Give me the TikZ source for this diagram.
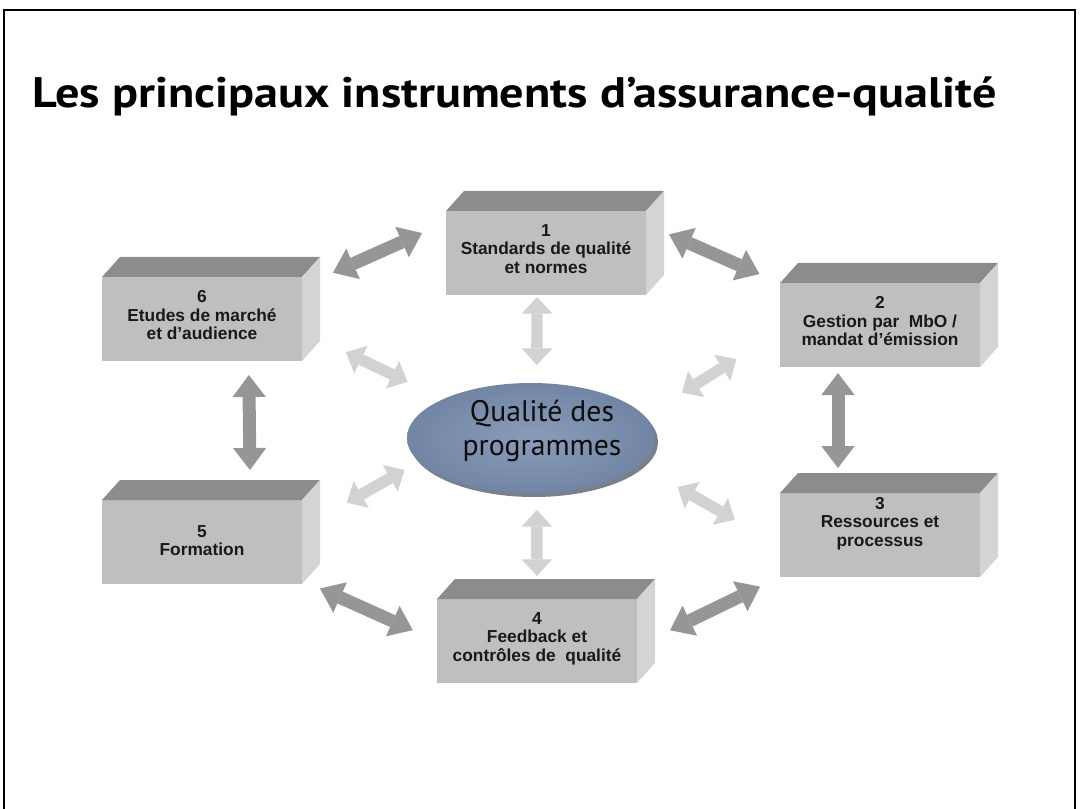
\documentclass[tikz,border=0pt]{standalone}
\usepackage{fontspec}
\usepackage{xcolor}
\usetikzlibrary{arrows.meta,shapes.geometric}

\newfontfamily\boxfont{Liberation Sans}
\newfontfamily\headfont{PT Sans}
\newfontfamily\titlefont[FakeStretch=1.13]{PT Sans Bold}

\definecolor{facefront}{RGB}{191,191,191}
\definecolor{facetop}{RGB}{140,140,140}
\definecolor{faceside}{RGB}{212,212,212}
\definecolor{arrdark}{RGB}{150,150,150}
\definecolor{arrlight}{RGB}{210,210,210}
\definecolor{ellinner}{RGB}{138,156,186}
\definecolor{ellouter}{RGB}{114,133,164}
\definecolor{ellrim}{RGB}{120,128,142}

\tikzset{
  cube/.style={rectangle, fill=facefront, minimum width=150pt, minimum height=63pt,
    inner sep=0pt, outer sep=0pt, align=center, text=black!90, text depth=6pt,
    font=\boxfont\bfseries\fontsize{13}{13.8}\selectfont},
  qtext/.style={inner sep=0pt, align=center, text=black!95,
    font=\headfont\fontsize{22.3}{25}\selectfont},
  darr/.style={draw=arrdark, line width=9.75pt,
    {Triangle[length=16.5pt,width=25pt,line width=0pt]}-{Triangle[length=16.5pt,width=25pt,line width=0pt]}},
  larr/.style={draw=arrlight, line width=8.5pt,
    {Triangle[length=12.5pt,width=23pt,line width=0pt]}-{Triangle[length=12.5pt,width=23pt,line width=0pt]}},
}

\begin{document}
\begin{tikzpicture}[x=0.75pt,y=0.75pt,yscale=-1,xscale=1]
\useasboundingbox (0,0) rectangle (1081,809);

%Frame
\draw[line width=1.5pt] (4,809) -- (4,10) -- (1075,10) -- (1075,809);

% Title
\node[anchor=base west, inner sep=0pt, font=\titlefont\fontsize{32}{38}\selectfont] (title) at (32,108) {Les principaux instruments d’assurance-qualité};

% Boxes (front faces)
\node[cube] (b1) at (546,253) {1\\Standards de qualité\\et normes};
\node[cube] (b2) at (880,325) {2\\Gestion par\ \ MbO /\\mandat d’émission};
\node[cube, text depth=20pt] (b3) at (880,535) {3\\Ressources et\\processus};
\node[cube] (b4) at (537,641) {4\\Feedback et\\contrôles de\ \ qualité};
\node[cube, text depth=2pt] (b5) at (202,542) {5\\Formation};
\node[cube] (b6) at (202,319) {6\\Etudes de marché\\et d’audience};

%Shape: Box 1 top and side
\fill[facetop] (b1.north west) -- ++(18,-20) -- ([shift={(18,-20)}]b1.north east) -- (b1.north east) -- cycle;
\fill[faceside] (b1.north east) -- ++(18,-20) -- ([shift={(18,-20)}]b1.south east) -- (b1.south east) -- cycle;
%Shape: Box 2 top and side
\fill[facetop] (b2.north west) -- ++(18,-20) -- ([shift={(18,-20)}]b2.north east) -- (b2.north east) -- cycle;
\fill[faceside] (b2.north east) -- ++(18,-20) -- ([shift={(18,-20)}]b2.south east) -- (b2.south east) -- cycle;
%Shape: Box 3 top and side
\fill[facetop] (b3.north west) -- ++(18,-20) -- ([shift={(18,-20)}]b3.north east) -- (b3.north east) -- cycle;
\fill[faceside] (b3.north east) -- ++(18,-20) -- ([shift={(18,-20)}]b3.south east) -- (b3.south east) -- cycle;
%Shape: Box 4 top and side
\fill[facetop] (b4.north west) -- ++(18,-20) -- ([shift={(18,-20)}]b4.north east) -- (b4.north east) -- cycle;
\fill[faceside] (b4.north east) -- ++(18,-20) -- ([shift={(18,-20)}]b4.south east) -- (b4.south east) -- cycle;
%Shape: Box 5 top and side
\fill[facetop] (b5.north west) -- ++(18,-20) -- ([shift={(18,-20)}]b5.north east) -- (b5.north east) -- cycle;
\fill[faceside] (b5.north east) -- ++(18,-20) -- ([shift={(18,-20)}]b5.south east) -- (b5.south east) -- cycle;
%Shape: Box 6 top and side
\fill[facetop] (b6.north west) -- ++(18,-20) -- ([shift={(18,-20)}]b6.north east) -- (b6.north east) -- cycle;
\fill[faceside] (b6.north east) -- ++(18,-20) -- ([shift={(18,-20)}]b6.south east) -- (b6.south east) -- cycle;

%Shape: Ellipse rim
\fill[ellrim] (534,442) ellipse [x radius=124, y radius=55];
% Centre ellipse
\node[ellipse, minimum width=186pt, minimum height=82.5pt, inner sep=0pt, outer sep=0pt,
  inner color=ellinner, outer color=ellouter] (q) at (531,438) {};
% Text Node
\node[qtext] (qlabel) at (542,431) {Qualité des\\programmes};

% Arrows between the boxes
\draw[darr, shorten <=25.4pt, shorten >=19.6pt] (b6.18.5) -- (b1.163);
\draw[darr, shorten <=18.8pt, shorten >=16.8pt] (b1.16.8) -- (b2.north west);
\draw[darr, shorten <=4.5pt, shorten >=18.75pt] (b2.225) -- (b3.135);
\draw[darr, shorten <=27.5pt, shorten >=16.6pt] (b4.-3) -- (b3.south west);
\draw[darr, shorten <=14.8pt, shorten >=19.9pt] (b5.-21.7) -- (b4.west);
\draw[darr, shorten <=10.5pt, shorten >=22.5pt] (b6.318.2) -- (b5.41.8);

% Arrows to the ellipse
\draw[larr, shorten <=1.5pt, shorten >=13.5pt] (b1.258) -- (q.84);
\draw[larr, shorten <=12.75pt, shorten >=17.25pt] (q.-84) -- (b4.north);
\draw[larr, shorten <=36.5pt, shorten >=29.9pt] (b6.-7.5) -- (q.156);
\draw[larr, shorten <=38.5pt, shorten >=33pt] (b2.184.3) -- (q.11.8);
\draw[larr, shorten <=38.5pt, shorten >=12.5pt] (b5.8.6) -- (q.192.1);
\draw[larr, shorten <=33.3pt, shorten >=39pt] (q.346.1) -- (b3.186.3);

\end{tikzpicture}
\end{document}
